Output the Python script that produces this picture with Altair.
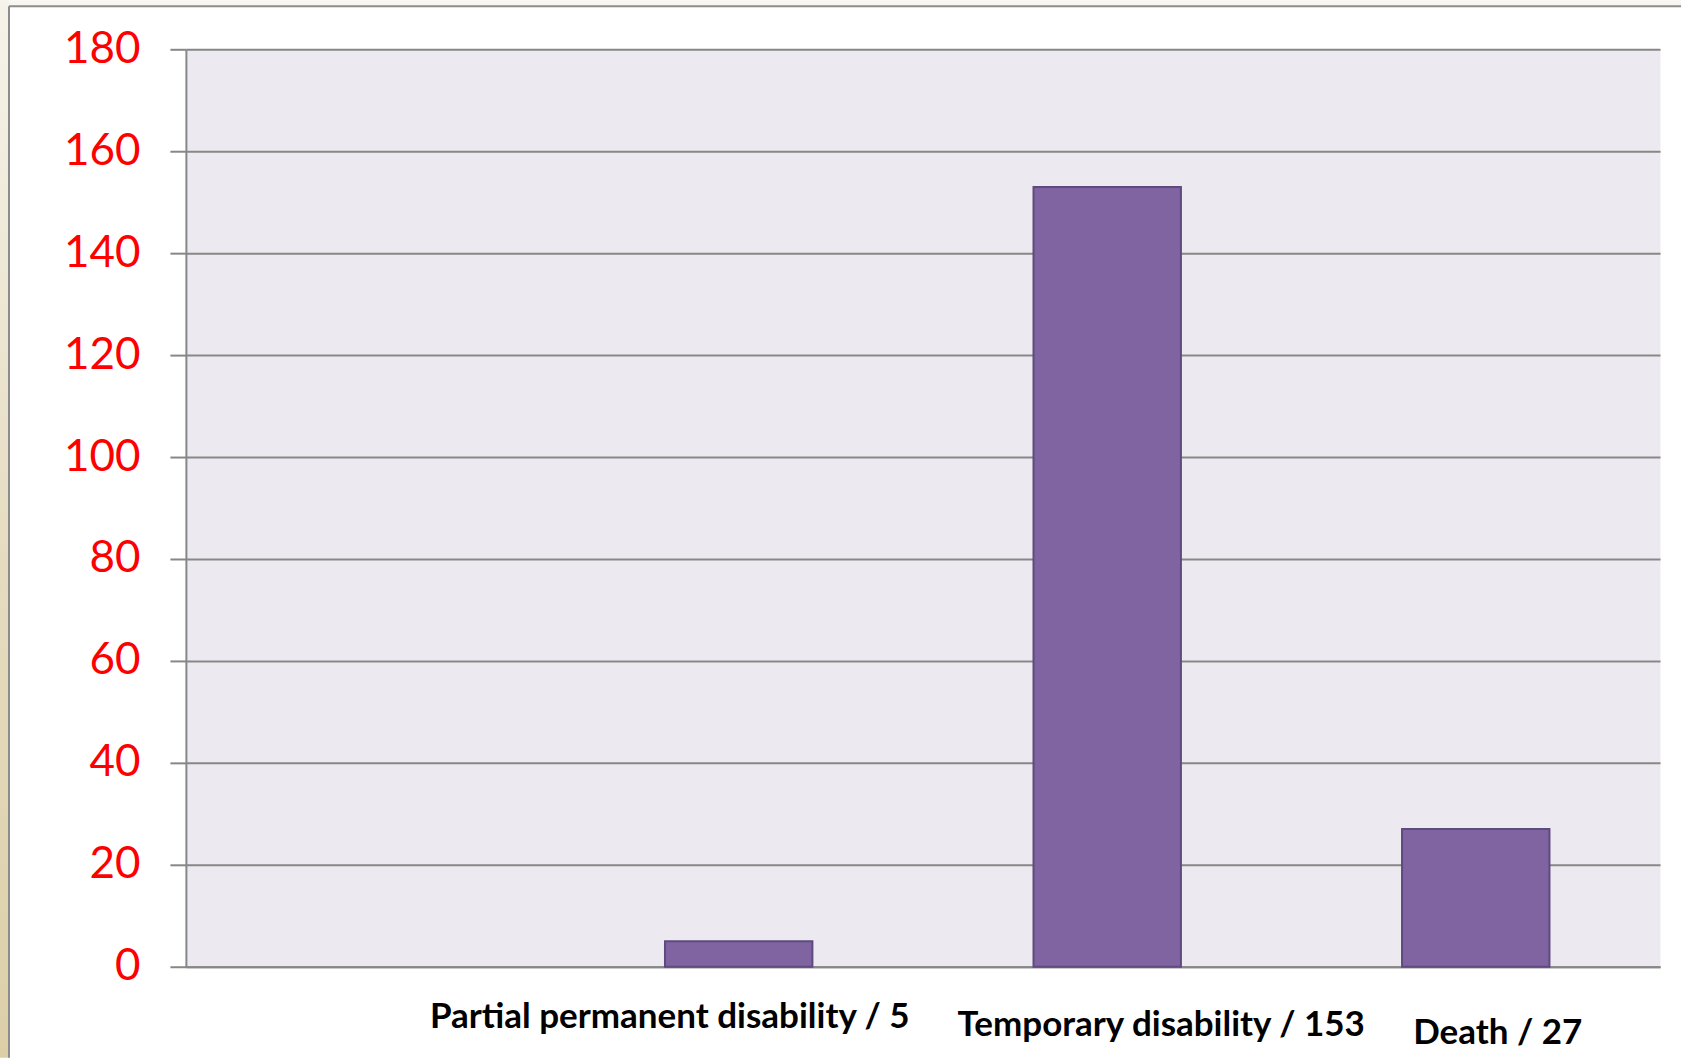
import altair as alt
import pandas as pd

# ---- data ----
categories = ["", "Partial permanent disability / 5", "Temporary disability / 153", "Death / 27"]
bar_categories = ["Partial permanent disability / 5", "Temporary disability / 153", "Death / 27"]
bar_values = [5, 153, 27]
y_ticks = [0, 20, 40, 60, 80, 100, 120, 140, 160, 180]

# per-label placement tweaks (the labels in the reference are staggered)
label_offsets = {"Partial permanent disability / 5": -69, "Temporary disability / 153": 54, "Death / 27": 22}
label_paddings = {"Partial permanent disability / 5": 61, "Temporary disability / 153": 69, "Death / 27": 77}

W, H = 1475, 918
GRAY = "#878787"

df = pd.DataFrame({"category": bar_categories, "value": bar_values})
one = pd.DataFrame({"a": [0]})


def cond(mapping):
    return {
        "condition": [{"test": f"datum.value === '{k}'", "value": v} for k, v in mapping.items()],
        "value": 0,
    }


bars = alt.Chart(df).mark_bar(
    color="#8064A2", stroke="#5E4A7E", strokeWidth=2
).encode(
    x=alt.X(
        "category:N",
        scale=alt.Scale(domain=categories, paddingInner=0.6, paddingOuter=0.3),
        axis=alt.Axis(
            title=None,
            labelFont="Lato",
            labelFontWeight="bold",
            labelFontSize=35,
            labelColor="#000000",
            labelAngle=0,
            labelLimit=2000,
            labelBaseline="alphabetic",
            labelAlign="center",
            labelOffset=cond(label_offsets),
            labelPadding=cond(label_paddings),
            ticks=False,
            tickSize=0,
            domainColor=GRAY,
            domainWidth=2,
            grid=False,
        ),
    ),
    y=alt.Y(
        "value:Q",
        scale=alt.Scale(domain=[0, 180], nice=False),
        axis=alt.Axis(
            title=None,
            values=y_ticks,
            labelFont="Lato",
            labelFontSize=44,
            labelColor="#FF0000",
            labelPadding=30,
            tickSize=16,
            tickColor=GRAY,
            tickWidth=2,
            domainColor=GRAY,
            domainWidth=2,
            gridColor=GRAY,
            gridWidth=2,
        ),
    ),
)

# ---- decorative slide frame around the chart ----
top_strip = alt.Chart(one).mark_rect(fill="#F8F6F0").encode(
    x=alt.value(-186), x2=alt.value(W + 21), y=alt.value(-49), y2=alt.value(-43)
)
left_strip = alt.Chart(one).mark_rect(
    fill=alt.Gradient(
        gradient="linear",
        stops=[
            alt.GradientStop(color="#F6F3EA", offset=0),
            alt.GradientStop(color="#E6DDC2", offset=0.5),
            alt.GradientStop(color="#DCCFA8", offset=1),
        ],
        x1=0, x2=0, y1=0, y2=1,
    )
).encode(
    x=alt.value(-186), x2=alt.value(-177), y=alt.value(-49), y2=alt.value(H + 91)
)
frame_v = alt.Chart(one).mark_rule(color="#8C8C8C", strokeWidth=2).encode(
    x=alt.value(-177), y=alt.value(-43), y2=alt.value(H + 91)
)
frame_h = alt.Chart(one).mark_rule(color="#8C8C8C", strokeWidth=2).encode(
    x=alt.value(-177), x2=alt.value(W + 21), y=alt.value(-43)
)

chart = alt.layer(top_strip, left_strip, frame_v, frame_h, bars).properties(
    width=W, height=H, background="#FFFFFF", padding=0
).configure_view(
    fill="#ECEAF0", strokeOpacity=0
)

chart.save("out.html", embed_options={"renderer": "svg", "actions": False})
